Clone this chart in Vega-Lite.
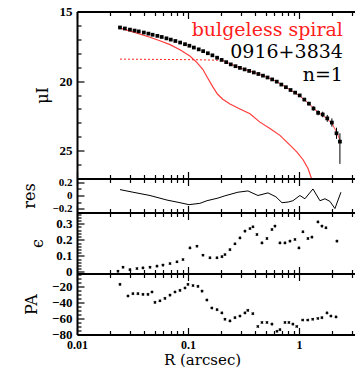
{
  "$schema": "https://vega.github.io/schema/vega-lite/v6.json",
  "background": "white",
  "padding": {"left": 21, "top": 5.5, "right": 0, "bottom": 0},
  "bounds": "flush",
  "spacing": 0,
  "config": {
    "view": {"stroke": null},
    "axis": {
      "grid": false,
      "domainColor": "black",
      "domainWidth": 2,
      "tickColor": "black",
      "tickWidth": 1.2,
      "labelFont": "Liberation Serif",
      "labelFontWeight": "bold",
      "labelFontSize": 13,
      "labelColor": "black",
      "labelFlush": false,
      "titleFont": "DejaVu Serif",
      "titleFontWeight": "normal",
      "titleFontSize": 16,
      "titleColor": "black"
    }
  },
  "datasets": {
    "sb": [
      {"R": 0.0244, "mu": 16.15, "lo": 16.13, "hi": 16.17},
      {"R": 0.027, "mu": 16.22, "lo": 16.2, "hi": 16.24},
      {"R": 0.03, "mu": 16.3, "lo": 16.28, "hi": 16.32},
      {"R": 0.033, "mu": 16.37, "lo": 16.35, "hi": 16.39},
      {"R": 0.036, "mu": 16.43, "lo": 16.41, "hi": 16.45},
      {"R": 0.04, "mu": 16.51, "lo": 16.49, "hi": 16.53},
      {"R": 0.044, "mu": 16.59, "lo": 16.57, "hi": 16.61},
      {"R": 0.048, "mu": 16.67, "lo": 16.65, "hi": 16.69},
      {"R": 0.053, "mu": 16.75, "lo": 16.73, "hi": 16.77},
      {"R": 0.058, "mu": 16.83, "lo": 16.81, "hi": 16.85},
      {"R": 0.064, "mu": 16.93, "lo": 16.91, "hi": 16.95},
      {"R": 0.07, "mu": 17.02, "lo": 17.0, "hi": 17.04},
      {"R": 0.077, "mu": 17.12, "lo": 17.1, "hi": 17.14},
      {"R": 0.085, "mu": 17.23, "lo": 17.21, "hi": 17.25},
      {"R": 0.094, "mu": 17.35, "lo": 17.33, "hi": 17.37},
      {"R": 0.103, "mu": 17.46, "lo": 17.44, "hi": 17.48},
      {"R": 0.113, "mu": 17.59, "lo": 17.57, "hi": 17.61},
      {"R": 0.125, "mu": 17.72, "lo": 17.7, "hi": 17.74},
      {"R": 0.137, "mu": 17.85, "lo": 17.83, "hi": 17.87},
      {"R": 0.151, "mu": 18.0, "lo": 17.98, "hi": 18.02},
      {"R": 0.166, "mu": 18.15, "lo": 18.13, "hi": 18.17},
      {"R": 0.183, "mu": 18.32, "lo": 18.3, "hi": 18.34},
      {"R": 0.201, "mu": 18.48, "lo": 18.46, "hi": 18.5},
      {"R": 0.221, "mu": 18.64, "lo": 18.62, "hi": 18.66},
      {"R": 0.243, "mu": 18.8, "lo": 18.78, "hi": 18.82},
      {"R": 0.268, "mu": 18.93, "lo": 18.9, "hi": 18.96},
      {"R": 0.294, "mu": 19.05, "lo": 19.02, "hi": 19.08},
      {"R": 0.324, "mu": 19.16, "lo": 19.13, "hi": 19.19},
      {"R": 0.356, "mu": 19.27, "lo": 19.24, "hi": 19.3},
      {"R": 0.392, "mu": 19.38, "lo": 19.35, "hi": 19.41},
      {"R": 0.431, "mu": 19.49, "lo": 19.46, "hi": 19.52},
      {"R": 0.474, "mu": 19.61, "lo": 19.58, "hi": 19.64},
      {"R": 0.521, "mu": 19.74, "lo": 19.71, "hi": 19.77},
      {"R": 0.574, "mu": 19.88, "lo": 19.84, "hi": 19.92},
      {"R": 0.631, "mu": 20.04, "lo": 20.0, "hi": 20.08},
      {"R": 0.694, "mu": 20.25, "lo": 20.2, "hi": 20.3},
      {"R": 0.763, "mu": 20.44, "lo": 20.38, "hi": 20.5},
      {"R": 0.84, "mu": 20.64, "lo": 20.57, "hi": 20.71},
      {"R": 0.924, "mu": 20.83, "lo": 20.75, "hi": 20.91},
      {"R": 1.016, "mu": 21.03, "lo": 20.94, "hi": 21.12},
      {"R": 1.118, "mu": 21.33, "lo": 21.23, "hi": 21.43},
      {"R": 1.23, "mu": 21.62, "lo": 21.5, "hi": 21.74},
      {"R": 1.353, "mu": 21.97, "lo": 21.82, "hi": 22.12},
      {"R": 1.488, "mu": 22.28, "lo": 22.1, "hi": 22.46},
      {"R": 1.637, "mu": 22.4, "lo": 22.2, "hi": 22.6},
      {"R": 1.8, "mu": 22.68, "lo": 22.43, "hi": 22.93},
      {"R": 1.98, "mu": 22.98, "lo": 22.68, "hi": 23.28},
      {"R": 2.18, "mu": 23.75, "lo": 23.35, "hi": 24.15},
      {"R": 2.34, "mu": 24.35, "lo": 23.75, "hi": 25.95}
    ],
    "fit": [
      {"R": 0.0244, "mu": 18.42, "part": "inner"},
      {"R": 0.05, "mu": 18.44, "part": "inner"},
      {"R": 0.1, "mu": 18.46, "part": "inner"},
      {"R": 0.15, "mu": 18.48, "part": "inner"},
      {"R": 0.207, "mu": 18.52, "part": "inner"},
      {"R": 0.207, "mu": 18.52, "part": "outer"},
      {"R": 0.25, "mu": 18.82, "part": "outer"},
      {"R": 0.3, "mu": 19.07, "part": "outer"},
      {"R": 0.4, "mu": 19.4, "part": "outer"},
      {"R": 0.5, "mu": 19.68, "part": "outer"},
      {"R": 0.6, "mu": 19.95, "part": "outer"},
      {"R": 0.7, "mu": 20.25, "part": "outer"},
      {"R": 0.8, "mu": 20.55, "part": "outer"},
      {"R": 0.9, "mu": 20.8, "part": "outer"},
      {"R": 1.0, "mu": 21.02, "part": "outer"},
      {"R": 1.2, "mu": 21.55, "part": "outer"},
      {"R": 1.4, "mu": 22.05, "part": "outer"},
      {"R": 1.6, "mu": 22.42, "part": "outer"},
      {"R": 1.8, "mu": 22.72, "part": "outer"},
      {"R": 2.0, "mu": 23.1, "part": "outer"},
      {"R": 2.2, "mu": 23.7, "part": "outer"},
      {"R": 2.38, "mu": 24.4, "part": "outer"}
    ],
    "psf": [
      {"R": 0.0244, "mu": 16.2},
      {"R": 0.033, "mu": 16.5},
      {"R": 0.0455, "mu": 16.85},
      {"R": 0.0558, "mu": 17.1},
      {"R": 0.0689, "mu": 17.38},
      {"R": 0.0847, "mu": 17.75},
      {"R": 0.104, "mu": 18.2},
      {"R": 0.12, "mu": 18.65},
      {"R": 0.136, "mu": 19.15},
      {"R": 0.151, "mu": 19.8},
      {"R": 0.167, "mu": 20.4},
      {"R": 0.185, "mu": 20.95},
      {"R": 0.206, "mu": 21.3},
      {"R": 0.239, "mu": 21.65},
      {"R": 0.294, "mu": 22.0},
      {"R": 0.362, "mu": 22.35},
      {"R": 0.445, "mu": 22.95},
      {"R": 0.548, "mu": 23.4},
      {"R": 0.674, "mu": 23.9},
      {"R": 0.83, "mu": 24.6},
      {"R": 0.96, "mu": 25.1},
      {"R": 1.09, "mu": 25.65},
      {"R": 1.21, "mu": 26.3},
      {"R": 1.31, "mu": 27.1}
    ],
    "notes": [
      {"R": 2.49, "mu": 16.3, "text": "bulgeless spiral", "kind": "class"},
      {"R": 2.49, "mu": 17.88, "text": "0916+3834", "kind": "name"},
      {"R": 2.49, "mu": 19.53, "text": "n=1", "kind": "name"}
    ],
    "res": [
      {"R": 0.0244, "res": 0.09},
      {"R": 0.032, "res": 0.05},
      {"R": 0.0455, "res": 0.0},
      {"R": 0.0647, "res": -0.07},
      {"R": 0.0847, "res": -0.11},
      {"R": 0.102, "res": -0.14},
      {"R": 0.128, "res": -0.12},
      {"R": 0.148, "res": -0.08},
      {"R": 0.186, "res": -0.04},
      {"R": 0.215, "res": -0.005},
      {"R": 0.282, "res": 0.05},
      {"R": 0.347, "res": 0.07},
      {"R": 0.427, "res": 0.0},
      {"R": 0.526, "res": 0.04},
      {"R": 0.62, "res": -0.02},
      {"R": 0.703, "res": -0.11},
      {"R": 0.8, "res": -0.1},
      {"R": 0.883, "res": -0.08},
      {"R": 1.02, "res": 0.0},
      {"R": 1.132, "res": -0.05},
      {"R": 1.337, "res": 0.1},
      {"R": 1.546, "res": -0.08},
      {"R": 1.715, "res": -0.05},
      {"R": 1.902, "res": -0.09},
      {"R": 2.11, "res": -0.2},
      {"R": 2.39, "res": 0.05}
    ],
    "eps": [
      {"R": 0.0234, "eps": 0.004},
      {"R": 0.026, "eps": 0.029},
      {"R": 0.03, "eps": 0.014},
      {"R": 0.0347, "eps": 0.021},
      {"R": 0.0393, "eps": 0.025},
      {"R": 0.0455, "eps": 0.029},
      {"R": 0.0526, "eps": 0.036},
      {"R": 0.0595, "eps": 0.042},
      {"R": 0.0689, "eps": 0.052},
      {"R": 0.0796, "eps": 0.063},
      {"R": 0.0902, "eps": 0.077},
      {"R": 0.1042, "eps": 0.15},
      {"R": 0.1205, "eps": 0.16},
      {"R": 0.1365, "eps": 0.104},
      {"R": 0.1578, "eps": 0.088},
      {"R": 0.1825, "eps": 0.088},
      {"R": 0.2024, "eps": 0.095},
      {"R": 0.2154, "eps": 0.108},
      {"R": 0.2389, "eps": 0.139},
      {"R": 0.2651, "eps": 0.175},
      {"R": 0.294, "eps": 0.212},
      {"R": 0.3262, "eps": 0.254},
      {"R": 0.3619, "eps": 0.27},
      {"R": 0.3851, "eps": 0.281},
      {"R": 0.4184, "eps": 0.233},
      {"R": 0.4642, "eps": 0.181},
      {"R": 0.5149, "eps": 0.208},
      {"R": 0.5712, "eps": 0.264},
      {"R": 0.6077, "eps": 0.285},
      {"R": 0.6743, "eps": 0.181},
      {"R": 0.7481, "eps": 0.181},
      {"R": 0.8298, "eps": 0.192},
      {"R": 0.9205, "eps": 0.202},
      {"R": 1.0, "eps": 0.15},
      {"R": 1.086, "eps": 0.25},
      {"R": 1.205, "eps": 0.208},
      {"R": 1.309, "eps": 0.217},
      {"R": 1.483, "eps": 0.312},
      {"R": 1.611, "eps": 0.285},
      {"R": 1.751, "eps": 0.275},
      {"R": 2.199, "eps": 0.192}
    ],
    "pa": [
      {"R": 0.0244, "pa": -17.5},
      {"R": 0.0288, "pa": -32},
      {"R": 0.0319, "pa": -29},
      {"R": 0.0354, "pa": -29},
      {"R": 0.0393, "pa": -30},
      {"R": 0.0436, "pa": -30},
      {"R": 0.0474, "pa": -27},
      {"R": 0.0504, "pa": -40},
      {"R": 0.0559, "pa": -38},
      {"R": 0.062, "pa": -35},
      {"R": 0.0689, "pa": -31},
      {"R": 0.0764, "pa": -27},
      {"R": 0.0847, "pa": -25},
      {"R": 0.094, "pa": -22},
      {"R": 0.1, "pa": -17.5},
      {"R": 0.111, "pa": -19},
      {"R": 0.123, "pa": -20},
      {"R": 0.134, "pa": -26},
      {"R": 0.148, "pa": -37},
      {"R": 0.164, "pa": -47},
      {"R": 0.183, "pa": -49},
      {"R": 0.202, "pa": -53},
      {"R": 0.2154, "pa": -61},
      {"R": 0.239, "pa": -63},
      {"R": 0.265, "pa": -59},
      {"R": 0.294, "pa": -57},
      {"R": 0.326, "pa": -53},
      {"R": 0.346, "pa": -50},
      {"R": 0.384, "pa": -54},
      {"R": 0.426, "pa": -70},
      {"R": 0.464, "pa": -65},
      {"R": 0.515, "pa": -65},
      {"R": 0.571, "pa": -67},
      {"R": 0.634, "pa": -76},
      {"R": 0.674, "pa": -74},
      {"R": 0.748, "pa": -65},
      {"R": 0.812, "pa": -65},
      {"R": 0.882, "pa": -67},
      {"R": 0.955, "pa": -70},
      {"R": 1.08, "pa": -62},
      {"R": 1.2, "pa": -62},
      {"R": 1.33, "pa": -61},
      {"R": 1.48, "pa": -60},
      {"R": 1.61, "pa": -59},
      {"R": 1.79, "pa": -53},
      {"R": 1.94, "pa": -57},
      {"R": 2.16, "pa": -58}
    ]
  },
  "vconcat": [
    {
      "width": 278,
      "height": 167,
      "resolve": {"axis": {"x": "independent", "y": "independent"}},
      "layer": [
        {
          "data": {"name": "psf"},
          "mark": {"type": "line", "color": "#ff3b3b", "strokeWidth": 1.2, "clip": true},
          "encoding": {
            "x": {"field": "R", "type": "quantitative", "scale": {"type": "log", "domain": [0.01, 3.2], "nice": false},
                  "axis": {"orient": "top", "values": [0.02, 0.03, 0.04, 0.05, 0.06, 0.07, 0.08, 0.09, 0.2, 0.3, 0.4, 0.5, 0.6, 0.7, 0.8, 0.9, 2, 3], "tickSize": -4, "domain": false, "labels": false, "title": null}},
            "y": {"field": "mu", "type": "quantitative", "scale": {"domain": [15, 27], "reverse": true, "nice": false, "zero": false}, "axis": null}
          }
        },
        {
          "data": {"name": "fit"},
          "mark": {"type": "line", "color": "#ff2020", "strokeWidth": 1},
          "encoding": {
            "x": {"field": "R", "type": "quantitative", "scale": {"type": "log", "domain": [0.01, 3.2], "nice": false},
                  "axis": {"orient": "top", "values": [0.01, 0.1, 1], "tickSize": -7, "labels": false, "title": null}},
            "y": {"field": "mu", "type": "quantitative", "scale": {"domain": [15, 27], "reverse": true, "nice": false, "zero": false}, "axis": null},
            "strokeDash": {"field": "part", "type": "nominal", "scale": {"domain": ["inner", "outer"], "range": [[2, 2], [1, 0]]}, "legend": null}
          }
        },
        {
          "data": {"name": "sb"},
          "mark": {"type": "rule", "color": "black", "strokeWidth": 1},
          "encoding": {
            "x": {"field": "R", "type": "quantitative", "scale": {"type": "log", "domain": [0.01, 3.2], "nice": false},
                  "axis": {"orient": "bottom", "values": [0.01, 0.1, 1], "tickSize": -7, "labels": false, "title": null}},
            "y": {"field": "lo", "type": "quantitative", "scale": {"domain": [15, 27], "reverse": true, "nice": false, "zero": false},
                  "axis": {"orient": "left", "values": [15, 20, 25], "tickSize": -7, "labelPadding": 12, "format": "d", "title": "μI", "titleX": -35, "titleBaseline": "middle"}},
            "y2": {"field": "hi"}
          }
        },
        {
          "data": {"name": "sb"},
          "mark": {"type": "square", "color": "black", "filled": true, "size": 14, "opacity": 1},
          "encoding": {
            "x": {"field": "R", "type": "quantitative", "scale": {"type": "log", "domain": [0.01, 3.2], "nice": false},
                  "axis": {"orient": "bottom", "values": [0.02, 0.03, 0.04, 0.05, 0.06, 0.07, 0.08, 0.09, 0.2, 0.3, 0.4, 0.5, 0.6, 0.7, 0.8, 0.9, 2, 3], "tickSize": -4, "domain": false, "labels": false, "title": null}},
            "y": {"field": "mu", "type": "quantitative", "scale": {"domain": [15, 27], "reverse": true, "nice": false, "zero": false},
                  "axis": {"orient": "left", "values": [16, 17, 18, 19, 21, 22, 23, 24, 26], "tickSize": -4, "domain": false, "labels": false, "title": null}}
          }
        },
        {
          "data": {"name": "notes"},
          "mark": {"type": "text", "align": "right", "baseline": "middle", "font": "DejaVu Serif", "fontSize": 19},
          "encoding": {
            "x": {"field": "R", "type": "quantitative", "scale": {"type": "log", "domain": [0.01, 3.2], "nice": false}, "axis": null},
            "y": {"field": "mu", "type": "quantitative", "scale": {"domain": [15, 27], "reverse": true, "nice": false, "zero": false}, "axis": null},
            "text": {"field": "text"},
            "color": {"field": "kind", "type": "nominal", "scale": {"domain": ["class", "name"], "range": ["#ff2020", "black"]}, "legend": null}
          }
        }
      ]
    },
    {
      "width": 278,
      "height": 34,
      "data": {"name": "res"},
      "resolve": {"axis": {"x": "independent", "y": "independent"}},
      "layer": [
        {
          "mark": {"type": "line", "color": "black", "strokeWidth": 1},
          "encoding": {
            "x": {"field": "R", "type": "quantitative", "scale": {"type": "log", "domain": [0.01, 3.2], "nice": false},
                  "axis": {"orient": "bottom", "values": [0.01, 0.1, 1], "tickSize": -7, "labels": false, "title": null}},
            "y": {"field": "res", "type": "quantitative", "scale": {"domain": [-0.26, 0.26], "nice": false, "zero": false},
                  "axis": {"orient": "left", "values": [-0.2, 0, 0.2], "tickSize": -7, "labelPadding": 12, "labelFontSize": 11, "labelOverlap": false, "format": ".1~f", "title": "res", "titleX": -48, "titleBaseline": "middle"}}
          }
        },
        {
          "mark": {"type": "point", "opacity": 0},
          "encoding": {
            "x": {"field": "R", "type": "quantitative", "scale": {"type": "log", "domain": [0.01, 3.2], "nice": false},
                  "axis": {"orient": "bottom", "values": [0.02, 0.03, 0.04, 0.05, 0.06, 0.07, 0.08, 0.09, 0.2, 0.3, 0.4, 0.5, 0.6, 0.7, 0.8, 0.9, 2, 3], "tickSize": -4, "domain": false, "labels": false, "title": null}},
            "y": {"field": "res", "type": "quantitative", "scale": {"domain": [-0.26, 0.26], "nice": false, "zero": false},
                  "axis": {"orient": "left", "values": [-0.1, 0.1], "tickSize": -4, "domain": false, "labels": false, "title": null}}
          }
        },
        {
          "mark": {"type": "point", "opacity": 0},
          "encoding": {
            "x": {"field": "R", "type": "quantitative", "scale": {"type": "log", "domain": [0.01, 3.2], "nice": false},
                  "axis": {"orient": "top", "values": [0.01, 0.1, 1], "tickSize": -7, "labels": false, "title": null}},
            "y": {"field": "res", "type": "quantitative", "scale": {"domain": [-0.26, 0.26], "nice": false, "zero": false}, "axis": null}
          }
        },
        {
          "mark": {"type": "point", "opacity": 0},
          "encoding": {
            "x": {"field": "R", "type": "quantitative", "scale": {"type": "log", "domain": [0.01, 3.2], "nice": false},
                  "axis": {"orient": "top", "values": [0.02, 0.03, 0.04, 0.05, 0.06, 0.07, 0.08, 0.09, 0.2, 0.3, 0.4, 0.5, 0.6, 0.7, 0.8, 0.9, 2, 3], "tickSize": -4, "domain": false, "labels": false, "title": null}},
            "y": {"field": "res", "type": "quantitative", "scale": {"domain": [-0.26, 0.26], "nice": false, "zero": false}, "axis": null}
          }
        }
      ]
    },
    {
      "width": 278,
      "height": 61,
      "data": {"name": "eps"},
      "resolve": {"axis": {"x": "independent", "y": "independent"}},
      "layer": [
        {
          "mark": {"type": "point", "shape": "cross", "angle": 45, "filled": true, "size": 10, "color": "black", "opacity": 1},
          "encoding": {
            "x": {"field": "R", "type": "quantitative", "scale": {"type": "log", "domain": [0.01, 3.2], "nice": false},
                  "axis": {"orient": "bottom", "values": [0.01, 0.1, 1], "tickSize": -7, "labels": false, "title": null}},
            "y": {"field": "eps", "type": "quantitative", "scale": {"domain": [-0.01, 0.37], "nice": false, "zero": false},
                  "axis": {"orient": "left", "values": [0, 0.1, 0.2, 0.3], "tickSize": -7, "labelPadding": 12, "format": ".1~f", "title": "ϵ", "titleX": -40, "titleBaseline": "middle"}}
          }
        },
        {
          "mark": {"type": "point", "opacity": 0},
          "encoding": {
            "x": {"field": "R", "type": "quantitative", "scale": {"type": "log", "domain": [0.01, 3.2], "nice": false},
                  "axis": {"orient": "bottom", "values": [0.02, 0.03, 0.04, 0.05, 0.06, 0.07, 0.08, 0.09, 0.2, 0.3, 0.4, 0.5, 0.6, 0.7, 0.8, 0.9, 2, 3], "tickSize": -4, "domain": false, "labels": false, "title": null}},
            "y": {"field": "eps", "type": "quantitative", "scale": {"domain": [-0.01, 0.37], "nice": false, "zero": false},
                  "axis": {"orient": "left", "values": [0.02, 0.04, 0.06, 0.08, 0.12, 0.14, 0.16, 0.18, 0.22, 0.24, 0.26, 0.28, 0.32, 0.34, 0.36], "tickSize": -4, "domain": false, "labels": false, "title": null}}
          }
        },
        {
          "mark": {"type": "point", "opacity": 0},
          "encoding": {
            "x": {"field": "R", "type": "quantitative", "scale": {"type": "log", "domain": [0.01, 3.2], "nice": false},
                  "axis": {"orient": "top", "values": [0.01, 0.1, 1], "tickSize": -7, "labels": false, "title": null}},
            "y": {"field": "eps", "type": "quantitative", "scale": {"domain": [-0.01, 0.37], "nice": false, "zero": false}, "axis": null}
          }
        },
        {
          "mark": {"type": "point", "opacity": 0},
          "encoding": {
            "x": {"field": "R", "type": "quantitative", "scale": {"type": "log", "domain": [0.01, 3.2], "nice": false},
                  "axis": {"orient": "top", "values": [0.02, 0.03, 0.04, 0.05, 0.06, 0.07, 0.08, 0.09, 0.2, 0.3, 0.4, 0.5, 0.6, 0.7, 0.8, 0.9, 2, 3], "tickSize": -4, "domain": false, "labels": false, "title": null}},
            "y": {"field": "eps", "type": "quantitative", "scale": {"domain": [-0.01, 0.37], "nice": false, "zero": false}, "axis": null}
          }
        }
      ]
    },
    {
      "width": 278,
      "height": 61,
      "data": {"name": "pa"},
      "resolve": {"axis": {"x": "independent", "y": "independent"}},
      "layer": [
        {
          "mark": {"type": "point", "shape": "cross", "angle": 45, "filled": true, "size": 10, "color": "black", "opacity": 1},
          "encoding": {
            "x": {"field": "R", "type": "quantitative", "scale": {"type": "log", "domain": [0.01, 3.2], "nice": false},
                  "axis": {"orient": "bottom", "values": [0.01, 0.1, 1], "tickSize": -7, "labelPadding": 12, "labelFontSize": 12, "format": "~g", "title": "R (arcsec)", "titleFontSize": 15, "titleX": 125, "titlePadding": 2}},
            "y": {"field": "pa", "type": "quantitative", "scale": {"domain": [-80, -4], "nice": false, "zero": false},
                  "axis": {"orient": "left", "values": [-80, -60, -40, -20], "tickSize": -7, "labelPadding": 12, "format": "d", "title": "PA", "titleX": -46, "titleBaseline": "middle"}}
          }
        },
        {
          "mark": {"type": "point", "opacity": 0},
          "encoding": {
            "x": {"field": "R", "type": "quantitative", "scale": {"type": "log", "domain": [0.01, 3.2], "nice": false},
                  "axis": {"orient": "bottom", "values": [0.02, 0.03, 0.04, 0.05, 0.06, 0.07, 0.08, 0.09, 0.2, 0.3, 0.4, 0.5, 0.6, 0.7, 0.8, 0.9, 2, 3], "tickSize": -4, "domain": false, "labels": false, "title": null}},
            "y": {"field": "pa", "type": "quantitative", "scale": {"domain": [-80, -4], "nice": false, "zero": false},
                  "axis": {"orient": "left", "values": [-75, -70, -65, -55, -50, -45, -35, -30, -25, -15, -10, -5], "tickSize": -4, "domain": false, "labels": false, "title": null}}
          }
        },
        {
          "mark": {"type": "point", "opacity": 0},
          "encoding": {
            "x": {"field": "R", "type": "quantitative", "scale": {"type": "log", "domain": [0.01, 3.2], "nice": false},
                  "axis": {"orient": "top", "values": [0.01, 0.1, 1], "tickSize": -7, "labels": false, "title": null}},
            "y": {"field": "pa", "type": "quantitative", "scale": {"domain": [-80, -4], "nice": false, "zero": false}, "axis": null}
          }
        },
        {
          "mark": {"type": "point", "opacity": 0},
          "encoding": {
            "x": {"field": "R", "type": "quantitative", "scale": {"type": "log", "domain": [0.01, 3.2], "nice": false},
                  "axis": {"orient": "top", "values": [0.02, 0.03, 0.04, 0.05, 0.06, 0.07, 0.08, 0.09, 0.2, 0.3, 0.4, 0.5, 0.6, 0.7, 0.8, 0.9, 2, 3], "tickSize": -4, "domain": false, "labels": false, "title": null}},
            "y": {"field": "pa", "type": "quantitative", "scale": {"domain": [-80, -4], "nice": false, "zero": false}, "axis": null}
          }
        }
      ]
    }
  ]
}
